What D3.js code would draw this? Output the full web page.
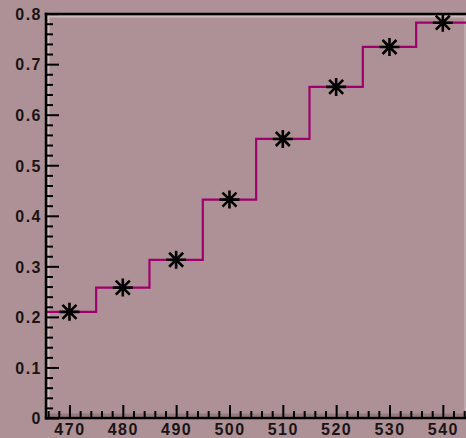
<!DOCTYPE html>
<html>
<head>
<meta charset="utf-8">
<script src="https://cdn.jsdelivr.net/npm/d3@7"></script>
<style>
  body { margin: 0; background: #ae9196; }
  svg { display: block; }
  .lab text { font-family: "Liberation Sans", Arial, sans-serif; font-weight: bold; font-size: 16px; letter-spacing: 1.5px; fill: #1a1414; }
</style>
</head>
<body>
<div id="chart"></div>
<script>
// histogram bins (centers) and contents
const binCenters = [470, 480, 490, 500, 510, 520, 530, 540];
const binValues = [0.21, 0.258, 0.313, 0.432, 0.552, 0.655, 0.734, 0.782];
const xMajorTicks = [470, 480, 490, 500, 510, 520, 530, 540];
const yMajorTicks = [0, 0.1, 0.2, 0.3, 0.4, 0.5, 0.6, 0.7, 0.8];

const W = 466, H = 438;
const padLeft = 46, padTop = 14, padBottom = 418;

const x = d3.scaleLinear().domain([465.6, 545]).range([padLeft, 469.5]);
const y = d3.scaleLinear().domain([0, 0.8]).range([padBottom, 13.6]);

const svg = d3.select('#chart').append('svg')
    .attr('width', W)
    .attr('height', H);

svg.append('rect').attr('width', W).attr('height', H).attr('fill', '#ae9196');

// frame bevel
svg.append('line').attr('x1', padLeft + 2.5).attr('x2', padLeft + 2.5).attr('y1', padTop).attr('y2', padBottom)
    .attr('stroke', '#cdbbbe').attr('stroke-width', 2);
svg.append('line').attr('x1', padLeft).attr('x2', W).attr('y1', padTop + 2.5).attr('y2', padTop + 2.5)
    .attr('stroke', '#cdbbbe').attr('stroke-width', 2);
svg.append('line').attr('x1', W - 1).attr('x2', W - 1).attr('y1', padTop).attr('y2', padBottom)
    .attr('stroke', '#c4b0b3').attr('stroke-width', 1.5);
svg.append('line').attr('x1', padLeft + 3).attr('x2', W).attr('y1', padBottom - 3).attr('y2', padBottom - 3)
    .attr('stroke', '#967a7f').attr('stroke-width', 3);

// minor ticks
const xMinor = d3.range(466, 545, 2).filter(v => v % 10 !== 0);
const yMinor = d3.range(0, 0.801, 0.02).filter(v => Math.abs(v * 10 - Math.round(v * 10)) > 1e-6);

svg.append('g')
    .attr('transform', `translate(0,${padBottom})`)
    .call(d3.axisBottom(x).tickValues(xMinor).tickSize(-7).tickFormat(''))
    .call(g => g.select('.domain').remove())
    .call(g => g.selectAll('line').attr('stroke', '#000').attr('stroke-width', 2));

svg.append('g')
    .attr('transform', `translate(${padLeft},0)`)
    .call(d3.axisLeft(y).tickValues(yMinor).tickSize(-7).tickFormat(''))
    .call(g => g.select('.domain').remove())
    .call(g => g.selectAll('line').attr('stroke', '#000').attr('stroke-width', 2));

// major ticks + labels
svg.append('g')
    .attr('class', 'lab')
    .attr('transform', `translate(0,${padBottom})`)
    .call(d3.axisBottom(x).tickValues(xMajorTicks).tickSize(-13).tickPadding(5).tickFormat(d3.format('d')))
    .call(g => g.select('.domain').remove())
    .call(g => g.selectAll('line').attr('stroke', '#000').attr('stroke-width', 2))
    .call(g => g.selectAll('text').attr('dy', '0.72em'));

svg.append('g')
    .attr('class', 'lab')
    .attr('transform', `translate(${padLeft},0)`)
    .call(d3.axisLeft(y).tickValues(yMajorTicks).tickSize(-13).tickPadding(4)
        .tickFormat(d => d === 0 ? '0' : d.toFixed(1)))
    .call(g => g.select('.domain').remove())
    .call(g => g.selectAll('line').attr('stroke', '#000').attr('stroke-width', 2))
    .call(g => g.selectAll('text').attr('dy', '0.36em'));

// histogram step line
const half = (binCenters[1] - binCenters[0]) / 2;
const stepPts = binCenters.map((c, i) => [c - half, binValues[i]]);
stepPts.push([binCenters[binCenters.length - 1] + half, binValues[binValues.length - 1]]);

svg.append('clipPath').attr('id', 'clip')
    .append('rect').attr('x', padLeft).attr('y', padTop).attr('width', W - padLeft).attr('height', padBottom - padTop);

svg.append('path')
    .datum(stepPts)
    .attr('clip-path', 'url(#clip)')
    .attr('fill', 'none')
    .attr('stroke', '#a0006e')
    .attr('stroke-width', 2.2)
    .attr('d', d3.line().x(d => x(d[0])).y(d => y(d[1])).curve(d3.curveStepAfter));

// asterisk markers
const star = 'M-10,0H10M0,-9V9M-7,-7L7,7M-7,7L7,-7';
svg.append('g')
    .selectAll('path')
    .data(binCenters)
    .enter().append('path')
    .attr('transform', (d, i) => `translate(${x(d)},${y(binValues[i])})`)
    .attr('d', star)
    .attr('stroke', '#000')
    .attr('stroke-width', 2.6)
    .attr('fill', 'none');

// axis lines and top frame
svg.append('line').attr('x1', padLeft).attr('x2', padLeft).attr('y1', padTop - 1.2).attr('y2', padBottom + 1.5)
    .attr('stroke', '#000').attr('stroke-width', 2.5);
svg.append('line').attr('x1', padLeft - 1.2).attr('x2', W).attr('y1', padBottom).attr('y2', padBottom)
    .attr('stroke', '#000').attr('stroke-width', 2.5);
svg.append('line').attr('x1', padLeft - 1.2).attr('x2', W).attr('y1', padTop).attr('y2', padTop)
    .attr('stroke', '#000').attr('stroke-width', 2.5);
</script>
</body>
</html>
